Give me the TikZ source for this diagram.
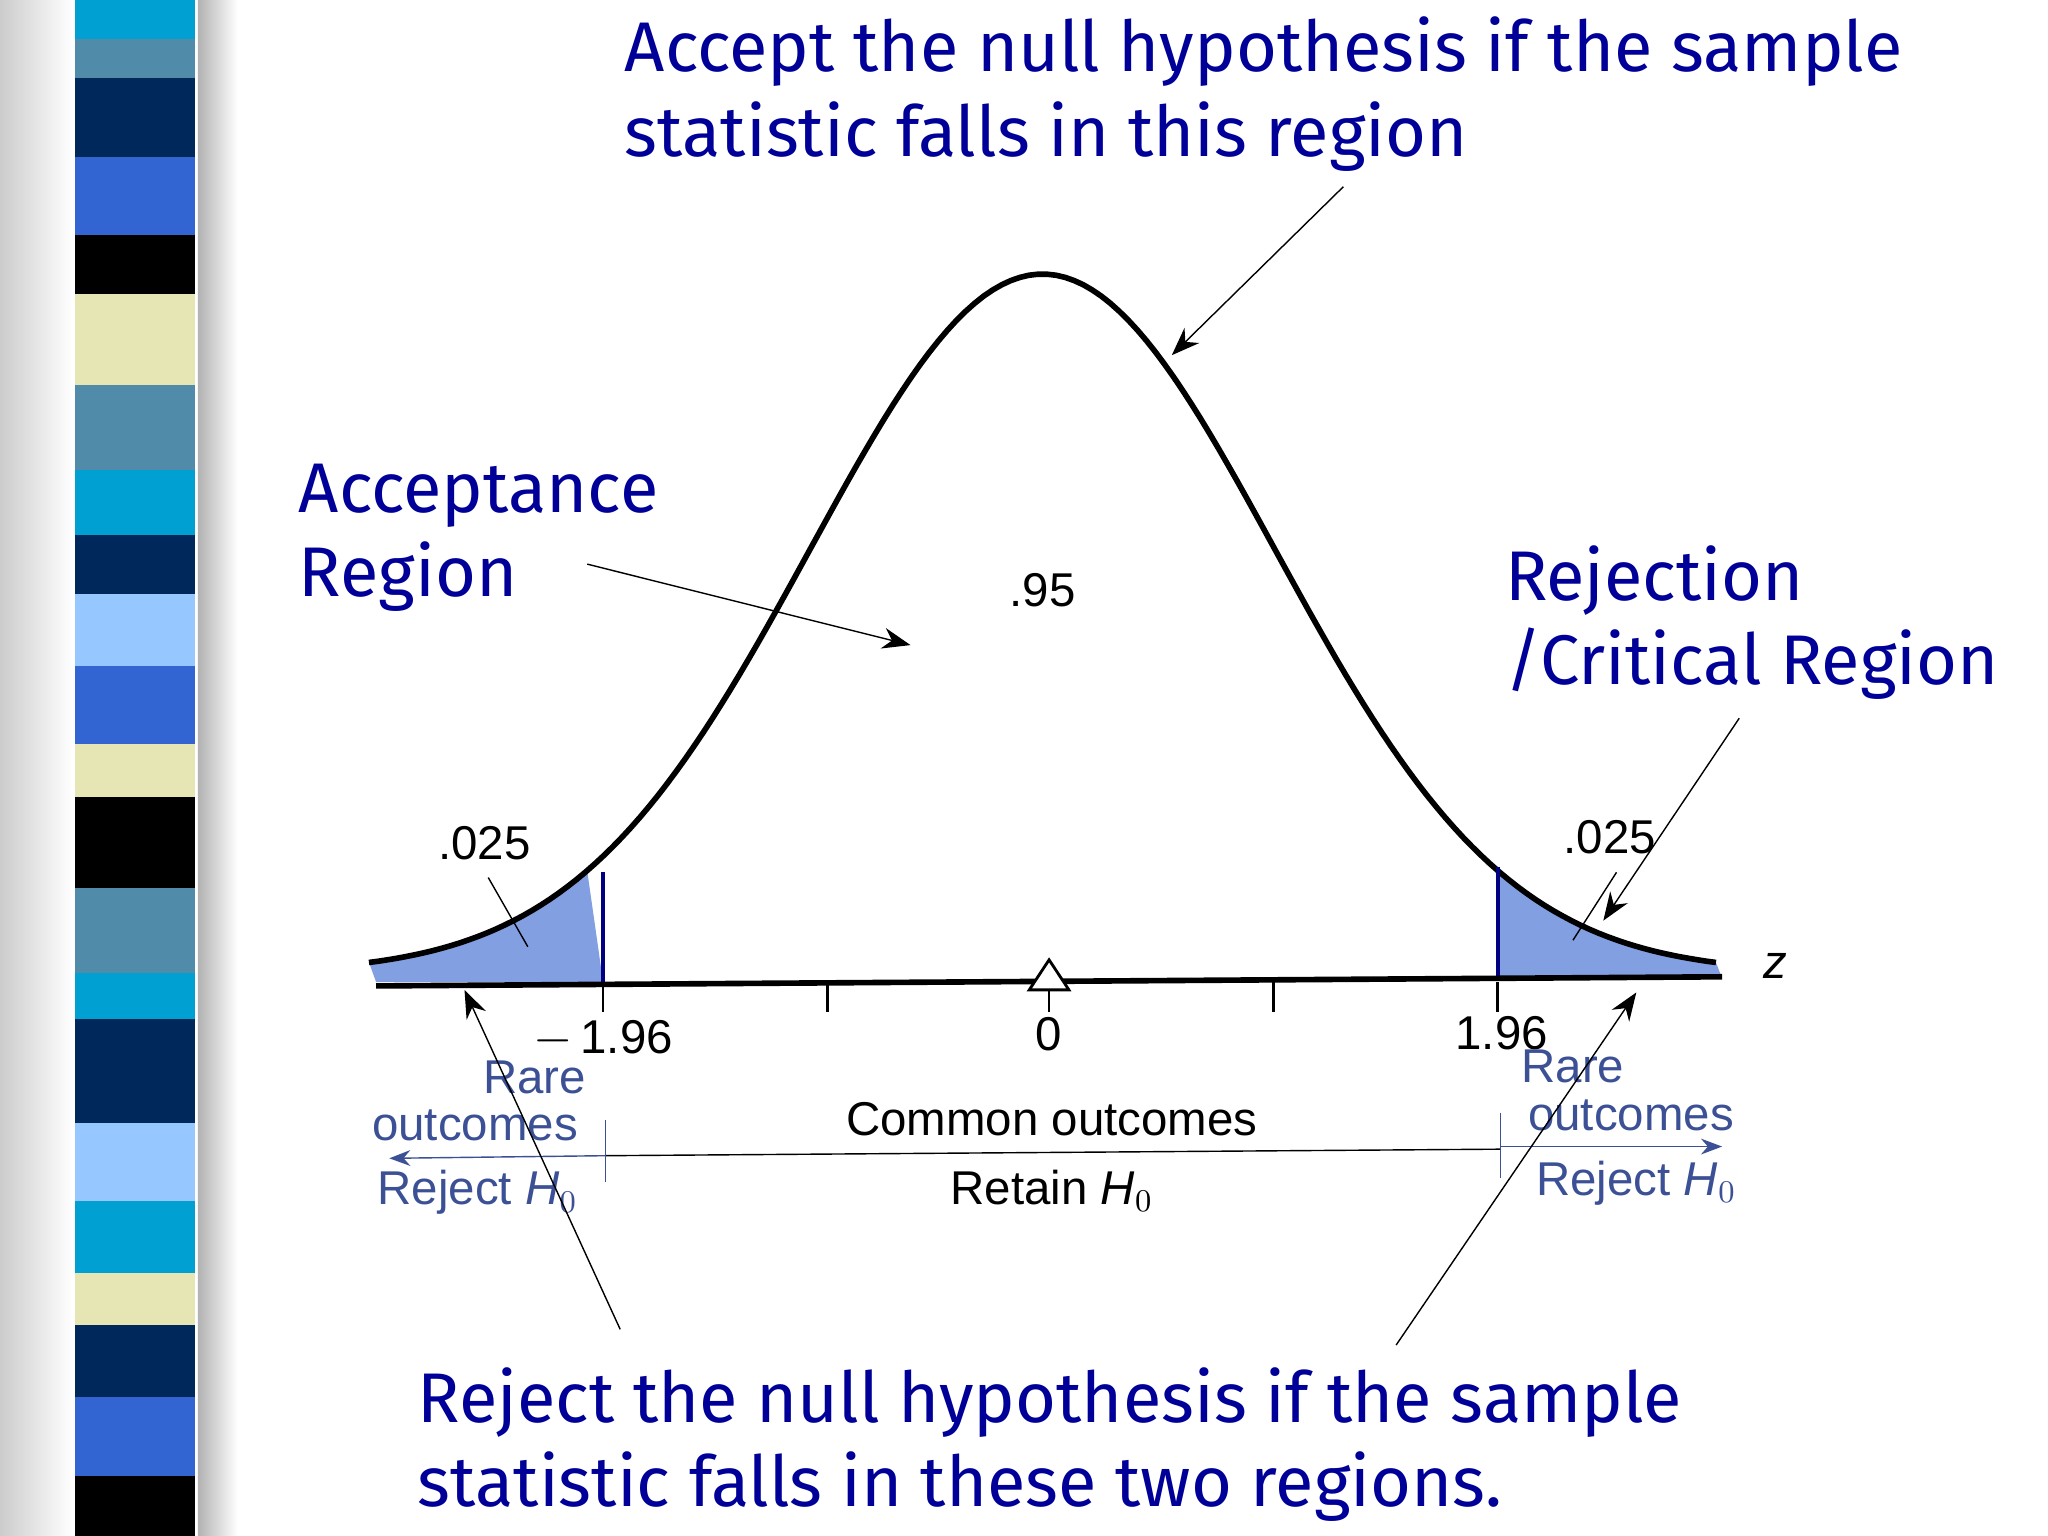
\documentclass[tikz,border=0pt]{standalone}
\usepackage{fontspec}
\usetikzlibrary{arrows.meta}
\setmainfont{Liberation Sans}
\newfontfamily\hand{Fira Sans}
\definecolor{sA}{RGB}{0,160,210}
\definecolor{sB}{RGB}{80,140,170}
\definecolor{sC}{RGB}{0,40,90}
\definecolor{sD}{RGB}{50,100,210}
\definecolor{sE}{RGB}{230,230,180}
\definecolor{sF}{RGB}{150,200,255}
\definecolor{tail}{RGB}{130,160,225}
\definecolor{axblue}{RGB}{60,80,150}
\begin{document}
\begin{tikzpicture}[x=0.0132cm,y=-0.013061cm,
  big/.style={font=\hand\fontsize{20}{24}\selectfont,text=blue!60!black,align=left,inner sep=0},
  ax/.style={font=\fontsize{13.5}{15}\selectfont,inner sep=0},
  axb/.style={ax,text=axblue},
  ptr/.style={-{Stealth[length=8pt]},thin}]
\useasboundingbox (0,0) rectangle (1552,1176);
\fill[white] (0,0) rectangle (1552,1176);
\shade[left color=gray!40,right color=white] (0,0) rectangle (55,1176);
\shade[left color=gray!60,right color=white] (150,0) rectangle (180,1176);
\foreach \a/\b/\c in {0/30/sA,30/60/sB,60/120/sC,120/180/sD,180/225/black,225/295/sE,295/360/sB,360/410/sA,410/455/sC,455/510/sF,510/570/sD,570/610/sE,610/680/black,680/745/sB,745/780/sA,780/860/sC,860/920/sF,920/975/sA,975/1015/sE,1015/1070/sC,1070/1130/sD,1130/1176/black}
  \fill[\c] (57,\a) rectangle (148,\b);
% tails
\fill[tail] (285,752) -- plot[domain=-2.9:-1.96,samples=40] ({790+176*\x},{745-535*exp(-\x*\x/2)}) -- (457,752) -- cycle;
\fill[tail] (1135,749) -- plot[domain=1.96:2.9,samples=40] ({790+176*\x},{745-535*exp(-\x*\x/2)}) -- (1305,749) -- cycle;
\draw[line width=1.6pt] plot[domain=-2.9:2.9,samples=150] ({790+176*\x},{745-535*exp(-\x*\x/2)});
\draw[line width=1.2pt,blue!50!black] (457,668) -- (457,752) (1135,664) -- (1135,750);
\draw[line width=1.6pt] (285,755) -- (1305,748);
\foreach \x in {457,627,795,965,1135} \draw[thick] (\x,752) -- (\x,775);
\draw[thick,fill=white] (795,735) -- (780,758) -- (810,758) -- cycle;
\node[ax] (zl) at (1345,740) {\itshape z};
\node[ax] (n95) at (790,452) {.95};
\node[ax] (t1) at (367,646) {.025};
\node[ax] (t2) at (1220,641) {.025};
\node[ax] (m196) at (457,796) {$-$\,1.96};
\node[ax] (zero) at (795,792) {0};
\node[ax] (p196) at (1138,791) {1.96};
\node[axb] (rl1) at (405,825) {Rare};
\node[axb] (rl2) at (360,862) {outcomes};
\node[axb] (rl3) at (362,913) {Reject \textit{H}$_0$};
\node[axb] (rr1) at (1192,817) {Rare};
\node[axb] (rr2) at (1236,854) {outcomes};
\node[axb] (rr3) at (1240,906) {Reject \textit{H}$_0$};
\node[ax] (co) at (797,857) {Common outcomes};
\node[ax] (rh) at (797,912) {Retain \textit{H}$_0$};
\draw[axblue,-{Stealth[length=6pt]}] (459,885) -- (295,887);
\draw[axblue,-{Stealth[length=6pt]}] (1137,878) -- (1305,878);
\draw[black] (459,885) -- (1137,880);
\draw[axblue] (459,858) -- (459,905) (1137,852) -- (1137,902);
% big labels
\node[big,anchor=west] (acc) at (473,72) {Accept the null hypothesis if the sample\\statistic falls in this region};
\node[big,anchor=west] (ar) at (226,412) {Acceptance\\Region};
\node[big,anchor=west] (rc) at (1140,477) {Rejection\\/Critical Region};
\node[big,anchor=west] (rj) at (316,1106) {Reject the null hypothesis if the sample\\statistic falls in these two regions.};
\coordinate (a1) at (1018,143); \coordinate (a2) at (888,272);
\coordinate (b1) at (445,432); \coordinate (b2) at (690,494);
\coordinate (c1) at (1318,550); \coordinate (c2) at (1215,705);
\coordinate (d1) at (470,1018); \coordinate (d2) at (352,758);
\coordinate (e1) at (1058,1030); \coordinate (e2) at (1240,760);
\draw[ptr] (a1) -- (a2);
\draw[ptr] (b1) -- (b2);
\draw[ptr] (c1) -- (c2);
\draw[ptr] (d1) -- (d2);
\draw[ptr] (e1) -- (e2);
\draw (370,672) -- (400,725);
\draw (1225,668) -- (1192,720);
\end{tikzpicture}
\end{document}
